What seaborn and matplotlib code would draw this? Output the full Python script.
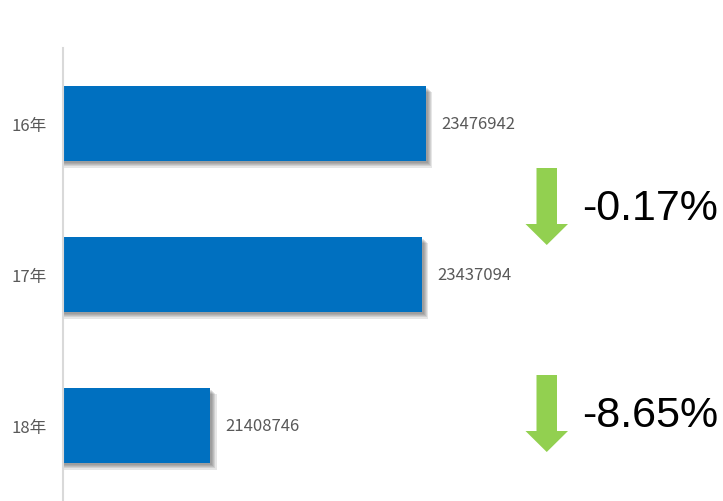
import matplotlib
matplotlib.use("Agg")
import matplotlib.pyplot as plt
import matplotlib.patheffects as pe
from matplotlib.patches import Polygon
import seaborn as sns
import pandas as pd

years = ["16年", "17年", "18年"]
values = [23476942, 23437094, 21408746]
bar_color = "#0070C0"
arrow_color = "#92D050"

sns.set_theme(style="white")
plt.rcParams['font.family'] = ['Noto Sans CJK SC', 'DejaVu Sans']

df = pd.DataFrame({"year": years, "value": values})

fig = plt.figure(figsize=(7.23, 5.02), dpi=100)
W, H = 723, 502
ax = fig.add_axes([63.5 / W, 0, (480.5 - 63.5) / W, (502 - 49) / H])

sns.barplot(data=df, y="year", x="value", orient="h", color=bar_color,
            saturation=1, width=0.5, linewidth=0, ax=ax)
shadow = [pe.SimplePatchShadow(offset=(o, -o), shadow_rgbFace="#404040", alpha=0.13)
          for o in (4.5, 3.5, 2.7, 2.0, 1.4)]
for p in ax.patches:
    p.set_edgecolor("none")
    p.set_path_effects(shadow + [pe.Normal()])

ax.set_xlim(20000000, 24000000)
ax.set_ylim(2.5, -0.5)
ax.set_xlabel("")
ax.set_ylabel("")
ax.set_xticks([])
ax.tick_params(axis="y", length=0, pad=12, labelsize=12, labelcolor="#595959")
for s in ["top", "right", "bottom"]:
    ax.spines[s].set_visible(False)
ax.spines["left"].set_color("#D9D9D9")
ax.spines["left"].set_linewidth(1.5)

ax.bar_label(ax.containers[0], labels=[str(v) for v in values], padding=11,
             fontsize=12, color="#595959")

# overlay for arrows and change labels
ov = fig.add_axes([0, 0, 1, 1])
ov.set_xlim(0, W)
ov.set_ylim(H, 0)
ov.axis("off")
ov.patch.set_alpha(0)

changes = [(values[i + 1] - values[i]) / values[i] * 100 for i in range(len(values) - 1)]
arrow_tops = [169, 376]
for top, ch in zip(arrow_tops, changes):
    head_start = top + 56
    tip = top + 77
    pts = [(536.5, top), (557, top), (557, head_start), (568, head_start),
           (546.75, tip), (525.5, head_start), (536.5, head_start)]
    ov.add_patch(Polygon(pts, closed=True, facecolor=arrow_color, edgecolor="none"))
    ov.text(582, top + 40, f"{ch:.2f}%", fontsize=31, color="black",
            family=["Liberation Sans", "DejaVu Sans"], va="center", ha="left")

fig.savefig("out.png", dpi=100)
